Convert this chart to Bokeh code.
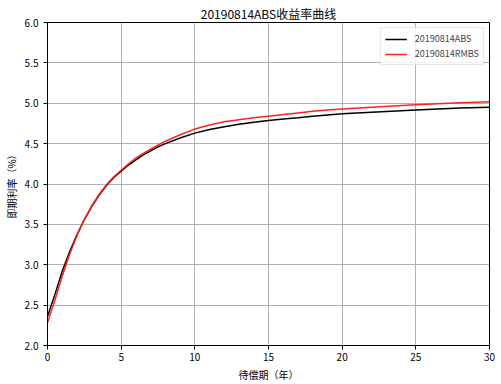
from bokeh.plotting import figure
from bokeh.models import FixedTicker, Range1d, Legend, LegendItem, CustomJSTickFormatter
from bokeh.embed import file_html
from bokeh.resources import INLINE

# Data
term_years = [0, 0.5, 1, 1.5, 2, 2.5, 3, 3.5, 4, 4.5, 5, 5.5, 6, 6.5, 7, 7.5, 8, 9, 10,
              11, 12, 13, 14, 15, 16, 17, 18, 19, 20, 22, 25, 28, 30]
abs_rates = [2.36, 2.63, 2.92, 3.16, 3.37, 3.56, 3.72, 3.86, 3.98, 4.08, 4.16, 4.235,
             4.30, 4.36, 4.41, 4.46, 4.50, 4.57, 4.63, 4.675, 4.71, 4.74, 4.765, 4.785,
             4.805, 4.82, 4.84, 4.855, 4.87, 4.89, 4.915, 4.94, 4.95]
rmbs_rates = [2.28, 2.56, 2.86, 3.13, 3.36, 3.56, 3.73, 3.87, 3.99, 4.09, 4.17, 4.25,
              4.32, 4.38, 4.43, 4.48, 4.53, 4.61, 4.68, 4.73, 4.77, 4.795, 4.82, 4.84,
              4.86, 4.88, 4.90, 4.915, 4.93, 4.95, 4.98, 5.005, 5.02]
series_names = ["20190814ABS", "20190814RMBS"]
x_ticks = [0, 5, 10, 15, 20, 25, 30]
y_ticks = [2.0, 2.5, 3.0, 3.5, 4.0, 4.5, 5.0, 5.5, 6.0]
title_text = "20190814ABS收益率曲线"
x_label = "待偿期（年）"
y_label = "即期利率（%）"

FONT = "Noto Sans CJK SC"

p = figure(width=501, height=384, output_backend="svg", toolbar_location=None,
           x_range=Range1d(0, 30), y_range=Range1d(2.0, 6.0),
           min_border_left=43, min_border_right=12, min_border_top=22,
           min_border_bottom=35, title=title_text)

p.title.align = "center"
p.title.text_font = FONT
p.title.text_font_size = "12px"
p.title.text_font_style = "normal"
p.title.text_color = "#000000"
p.title.standoff = 2

p.outline_line_color = "#000000"
p.outline_line_width = 1
p.background_fill_color = "white"
p.border_fill_color = "white"

for ax in (p.xaxis[0], p.yaxis[0]):
    ax.axis_line_color = "#000000"
    ax.major_tick_line_color = "#000000"
    ax.major_tick_out = 4
    ax.major_tick_in = 0
    ax.minor_tick_line_color = None
    ax.major_label_text_font = FONT
    ax.major_label_text_font_size = "10px"
    ax.major_label_text_color = "#000000"
    ax.axis_label_text_font = FONT
    ax.axis_label_text_font_size = "10px"
    ax.axis_label_text_font_style = "normal"
    ax.axis_label_text_color = "#000000"

p.xaxis.ticker = FixedTicker(ticks=x_ticks)
p.yaxis.ticker = FixedTicker(ticks=y_ticks)
p.yaxis.formatter = CustomJSTickFormatter(code="return tick.toFixed(1);")
p.xaxis.axis_label = x_label
p.yaxis.axis_label = y_label
p.xaxis.major_label_standoff = 3
p.yaxis.major_label_standoff = 5
p.xaxis.axis_label_standoff = 3
p.yaxis.axis_label_standoff = 3

p.grid.grid_line_color = "#b0b0b0"
p.grid.grid_line_width = 1

r1 = p.line(term_years, abs_rates, line_color="#000000", line_width=1.5)
r2 = p.line(term_years, rmbs_rates, line_color="#ff2020", line_width=1.5)

legend = Legend(items=[LegendItem(label=series_names[0], renderers=[r1]),
                       LegendItem(label=series_names[1], renderers=[r2])],
                location="top_right")
legend.label_text_font = FONT
legend.label_text_font_size = "9px"
legend.glyph_width = 22
legend.glyph_height = 12
legend.label_height = 12
legend.label_standoff = 8
legend.spacing = 2
legend.padding = 4
legend.margin = 5
legend.border_line_color = "#cccccc"
legend.border_line_width = 1
legend.background_fill_alpha = 0.8
p.add_layout(legend)

open("out.html", "w").write(file_html(p, INLINE))
